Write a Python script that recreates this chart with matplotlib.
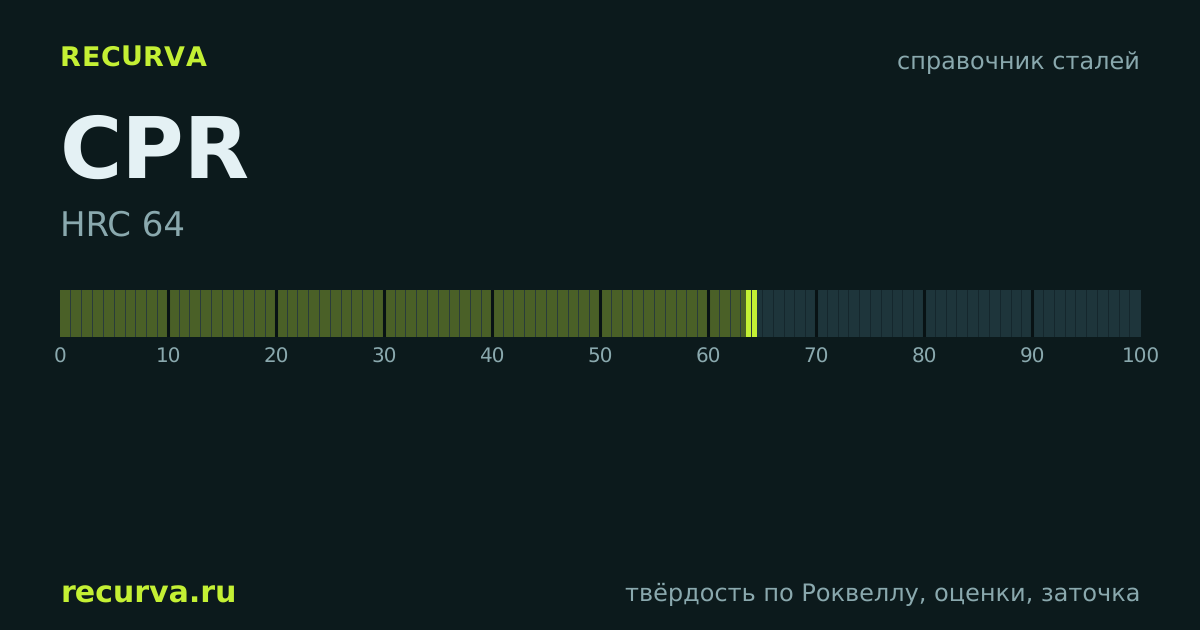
import matplotlib
matplotlib.use("Agg")
import matplotlib.pyplot as plt

brand = "RECURVA"
section = "справочник сталей"
steel = "CPR"
hardness_label = "HRC 64"
site = "recurva.ru"
footer = "твёрдость по Роквеллу, оценки, заточка"
hardness = 64
cells = list(range(100))
ticks = list(range(0, 101, 10))

BG = "#0c1a1c"
LIME = "#c4f034"
WHITE = "#e4f1f4"
MUTED = "#8aa9ae"
OLIVE = "#4a6027"
TEAL = "#1e353b"
GAP_OLIVE = "#2a3c3a"
GAP_TEAL = "#15272d"
GAP_DEC = "#081214"

W, H = 1200, 630
plt.rcParams["font.family"] = "DejaVu Sans"
plt.rcParams["text.hinting"] = "no_hinting"
plt.rcParams["text.hinting_factor"] = 1
fig = plt.figure(figsize=(W / 100, H / 100), dpi=100, facecolor=BG)

def px(x, y):
    return x / W, 1 - y / H

def put(x, y, s, size, color, ha="left", weight="normal", spacing=0.0):
    fx, fy = px(x, y)
    if not spacing:
        fig.text(fx, fy, s, fontsize=size * 0.72, color=color, ha=ha, va="baseline", fontweight=weight)
        return
    # letter-spaced text: one real text object per glyph, advancing by measured width
    r = fig.canvas.get_renderer()
    def adv(prefix):
        t = fig.text(0, 0, prefix + "|", fontsize=size * 0.72, fontweight=weight)
        b = t.get_window_extent(r).width
        t.remove()
        return b
    base = adv("")
    total = adv(s) - base + spacing * (len(s) - 1)
    start = x - total if ha == "right" else x
    for i, ch in enumerate(s):
        cx = start + adv(s[:i]) - base + spacing * i
        fig.text(cx / W, fy, ch, fontsize=size * 0.72, color=color, ha="left", va="baseline", fontweight=weight)

put(60, 66, brand, 26.5, LIME, weight="bold", spacing=0.5)
put(1140, 69, section, 24, MUTED, ha="right")
put(60, 178, steel, 85, WHITE, weight="bold")
put(60, 236, hardness_label, 34.4, MUTED)
put(60, 603, site, 30, LIME, weight="bold")
put(1140, 601, footer, 24, MUTED, ha="right")

ax = fig.add_axes([60 / W, 1 - 337 / H, 1080.5 / W, 47 / H])
ax.set_facecolor(BG)
colors = [OLIVE if c < hardness else TEAL for c in cells]
ax.bar(cells, [1] * len(cells), width=1, align="edge", color=colors, linewidth=0, zorder=2)
ax.bar([hardness], [1], width=1.1, align="center", color=LIME, linewidth=0, zorder=3)
for c in cells[1:]:
    ax.axvline(c - 0.03, color=GAP_OLIVE if c <= hardness else GAP_TEAL, lw=0.72, zorder=4)
for t in ticks[1:-1]:
    ax.axvline(t, color=GAP_DEC, lw=2.2, zorder=5)
ax.set_xlim(0, 100)
ax.set_ylim(0, 1)
ax.set_yticks([])
ax.set_xticks(ticks)
ax.tick_params(axis="x", length=0, pad=7.3, labelsize=14.4, labelcolor=MUTED)
for sp in ax.spines.values():
    sp.set_visible(False)

fig.savefig("out.png", dpi=100, facecolor=BG)
